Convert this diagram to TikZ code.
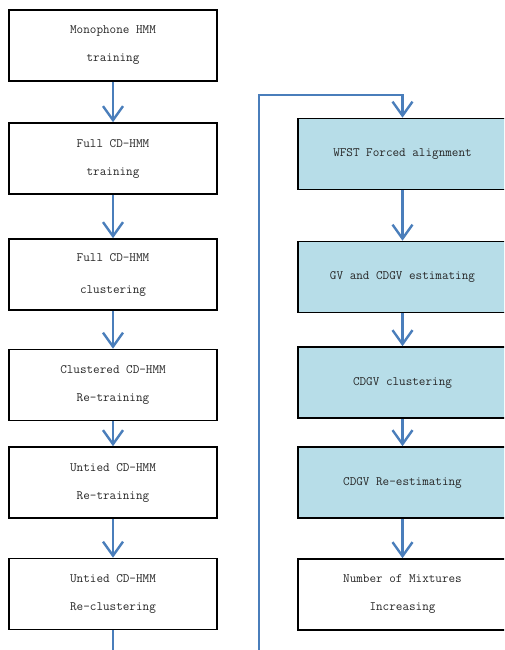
\documentclass[tikz,border=0pt]{standalone}
\usetikzlibrary{arrows.meta}
\definecolor{flowblue}{HTML}{4A7EBB}
\definecolor{stepfill}{HTML}{B7DDE8}
\begin{document}
\begin{tikzpicture}[x=1pt,y=-1pt,
  box/.style={draw=black,line width=1.6pt,minimum width=208pt,minimum height=71pt,inner sep=0pt,align=center,text=black!85,font=\ttfamily\fontsize{12.8}{28}\selectfont},
  vtbox/.style={box,fill=stepfill,minimum width=209pt},
  flow/.style={draw=flowblue,line width=2.4pt,-{Straight Barb[length=14pt,width=20pt]}},
  link/.style={draw=flowblue,line width=2.4pt}]
\useasboundingbox (0,0) rectangle (504,650);
\clip (0,0) rectangle (504,650);

% hmm training
\node[box] (mono) at (113,45.5) {Monophone HMM\\training};
\node[box] (fullcd) at (113,158.5) {Full CD-HMM\\training};
\node[box] (fullclus) at (113,274.5) {Full CD-HMM\\[4pt]clustering};
\node[box] (clustcd) at (113,385) {Clustered CD-HMM\\Re-training};
\node[box] (untied) at (113,482.5) {Untied CD-HMM\\Re-training};
\node[box] (untiedclus) at (113,594) {Untied CD-HMM\\Re-clustering};

% gv estimation
\node[vtbox] (wfst) at (402.5,154) {WFST Forced alignment};
\node[vtbox] (gv) at (402.5,277) {GV and CDGV estimating};
\node[vtbox] (cdgvclus) at (402.5,382.5) {CDGV clustering};
\node[vtbox] (cdgvre) at (402.5,482.5) {CDGV Re-estimating};
\node[box,minimum width=209pt] (mixup) at (402.5,594.5) {Number of Mixtures\\Increasing};

% arrows
\draw[flow] (mono) -- (fullcd);
\draw[flow] (fullcd) -- (fullclus);
\draw[flow] (fullclus) -- (clustcd);
\draw[flow] (clustcd) -- (untied);
\draw[flow] (untied) -- (untiedclus);
\draw[flow] (wfst) -- (gv);
\draw[flow] (gv) -- (cdgvclus);
\draw[flow] (cdgvclus) -- (cdgvre);
\draw[flow] (cdgvre) -- (mixup);

% loop back
\coordinate (tail) at (113,655);
\coordinate (loopbot) at (259,655);
\coordinate (looptop) at (259,95);
\draw[link] (untiedclus) -- (tail);
\draw[flow] (loopbot) -- (looptop) -| (wfst);

\end{tikzpicture}
\end{document}
